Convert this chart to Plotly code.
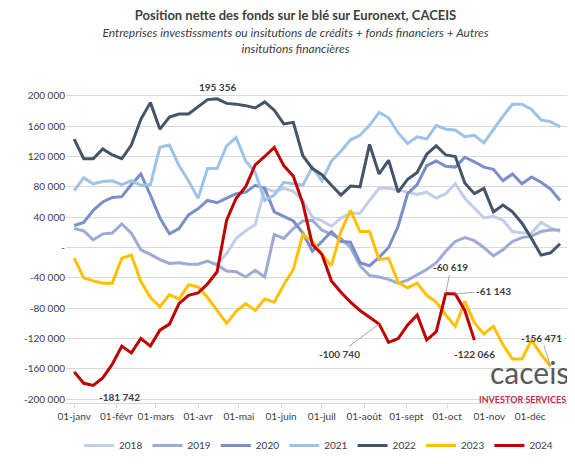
import pandas as pd
import plotly.graph_objects as go

# --- DATA (weekly net positions) ---
Y2018 = [None] * 15 + [-22, -8, 12, 22, 30, 78, 74, 78, 74, 62, 40, 35, 28, 39, 45, 45, 62, 78,
                       78, 76, 73, 70, 73, 65, 71, 84, 65, 52, 39, 41, 36, 21, 19, 19, 33, 26, 21]
Y2019 = [25, 22, 10, 18, 19, 31, 19, -3, -9, -16, -21, -20, -22, -22, -18, -23, -31, -32, -39, -30,
         -39, 17, 12, 25, 35, 36, 23, 17, 12, 0, -24, -37, -39, -42, -47, -43, -36, -29, -20, -5,
         8, 13, 9, 0, -11, -3, 8, 13, 15, 21, 23, 23]
Y2020 = [29, 33, 49, 60, 66, 67, 83, 97, 69, 39, 18, 25, 43, 51, 62, 59, 65, 71, 73, 82,
         78, 47, 41, 35, 19, -5, 8, 21, 8, 7, -20, -24, -13, 0, 28, 71, 83, 108, 114, 107,
         106, 119, 113, 106, 103, 88, 97, 84, 93, 86, 77, 62]
Y2021 = [75, 92, 84, 87, 88, 83, 88, 82, 83, 132, 135, 108, 88, 65, 104, 104, 134, 145, 114, 99,
         62, 69, 86, 84, 82, 106, 88, 114, 127, 142, 148, 161, 178, 171, 151, 137, 146, 143, 161, 156,
         155, 146, 148, 138, 156, 173, 189, 189, 182, 168, 166, 159]
Y2022 = [143, 117, 117, 130, 122, 117, 135, 169, 191, 156, 172, 176, 176, 185, 195, 196, 190, 189, 187, 184,
         192, 181, 163, 165, 121, 104, 96, 82, 69, 81, 80, 136, 97, 115, 73, 90, 99, 123, 134, 122,
         120, 85, 71, 78, 47, 56, 47, 32, 12, -10, -7, 5]
Y2023 = [-14, -40, -44, -47, -47, -14, -10, -45, -66, -78, -62, -68, -49, -52, -66, -83, -100, -84, -74, -83,
         -68, -72, -49, -29, 17, 8, -9, -24, 21, 49, 21, 21, -16, -14, -46, -53, -47, -63, -72, -89,
         -104, -71, -99, -114, -104, -128, -147, -147, -122, -141, -156.471]
Y2024 = [-164, -179, -181.742, -172, -154, -130, -139, -120, -130, -109, -101, -74, -63, -60, -48, -32, 36, 65, 80, 109,
         120, 132, 108, 94, 58, 4, -9, -44, -59, -72, -83, -92, -100.740, -125, -120, -102, -89, -122, -111, -60.619,
         -61.143, -83, -122.066]

YEARS = ['2018', '2019', '2020', '2021', '2022', '2023', '2024']
SERIES = [Y2018, Y2019, Y2020, Y2021, Y2022, Y2023, Y2024]
COLORS = ['#c3cce8', '#9eaad6', '#7a8ec9', '#9dc3e6', '#44546a', '#ffc000', '#c00000']

MONTHS = ['01-janv', '01-févr', '01-mars', '01-avr', '01-mai', '01-juin',
          '01-juil', '01-août', '01-sept', '01-oct', '01-nov', '01-déc']
Y_TICKS = list(range(-200000, 200001, 40000))


def fmt(v):
    if v == 0:
        return '-'
    return f"{v:,}".replace(',', ' ')


dates = pd.date_range('2024-01-01', periods=52, freq='7D')

fig = go.Figure()
for year, vals, col in zip(YEARS, SERIES, COLORS):
    y = [None if v is None else v * 1000 for v in vals]
    fig.add_trace(go.Scatter(x=dates[:len(y)], y=y, name=year, mode='lines',
                             line=dict(color=col, width=3)))


# data labels
def lab(series, idx, text, ax, ay, arrow=False):
    fig.add_annotation(x=dates[idx], y=series[idx] * 1000, text=text, showarrow=True,
                       ax=ax, ay=ay, arrowhead=0, arrowwidth=1,
                       arrowcolor='#a6a6a6' if arrow else 'rgba(0,0,0,0)',
                       font=dict(size=10, color='#404040', family='Lato'), xanchor='center')


lab(Y2022, 15, '<b>195 356</b>', 0, -12)
lab(Y2024, 2, '<b>-181 742</b>', 26, 12)
lab(Y2024, 32, '<b>-100 740</b>', -40, 30, True)
lab(Y2024, 39, '<b>-60 619</b>', 5, -26, True)
lab(Y2024, 40, '<b>-61 143</b>', 38, -3, True)
lab(Y2024, 42, '<b>-122 066</b>', 0, 14)
lab(Y2023, 50, '<b>-156 471</b>', -9, -28, True)

# logo
fig.add_annotation(xref='paper', yref='paper', x=1.0, y=0.1, yanchor='middle', text='caceis',
                   showarrow=False, xanchor='right', font=dict(size=30, color='#595959', family='Lato'))
fig.add_annotation(xref='paper', yref='paper', x=0.995, y=0.012, yanchor='middle',
                   text='<b>INVESTOR SERVICES</b>', showarrow=False, xanchor='right',
                   font=dict(size=9, color='#c0304a', family='Lato'))

fig.update_layout(
    width=575, height=464,
    paper_bgcolor='white', plot_bgcolor='white',
    margin=dict(l=58, r=12, t=84, b=56),
    font=dict(family='Lato', size=10, color='#404040'),
    title=dict(text='<b>Position nette des fonds sur le blé sur Euronext, CACEIS</b><br>'
                    '<span style="font-size:12px"><i>Entreprises investissments ou insitutions de crédits + fonds financiers + Autres<br>'
                    'insitutions financières</i></span>',
               x=0.5, xanchor='center', y=0.975, yanchor='top', font=dict(size=13, color='#404040')),
    legend=dict(orientation='h', x=0.5, xanchor='center', y=-0.09, yanchor='top',
                font=dict(size=10), itemwidth=30),
    showlegend=True,
)
fig.update_xaxes(tickvals=pd.date_range('2024-01-01', periods=12, freq='MS'), ticktext=MONTHS,
                 range=['2023-12-26', '2024-12-31'], showgrid=False, ticks='outside', ticklen=4,
                 tickcolor='#d9d9d9', showline=True, linecolor='#d9d9d9')
fig.update_yaxes(tickvals=Y_TICKS, ticktext=[fmt(v) for v in Y_TICKS], range=[-205000, 205000],
                 gridcolor='#d9d9d9', zeroline=False)

fig.write_html('out.html')
